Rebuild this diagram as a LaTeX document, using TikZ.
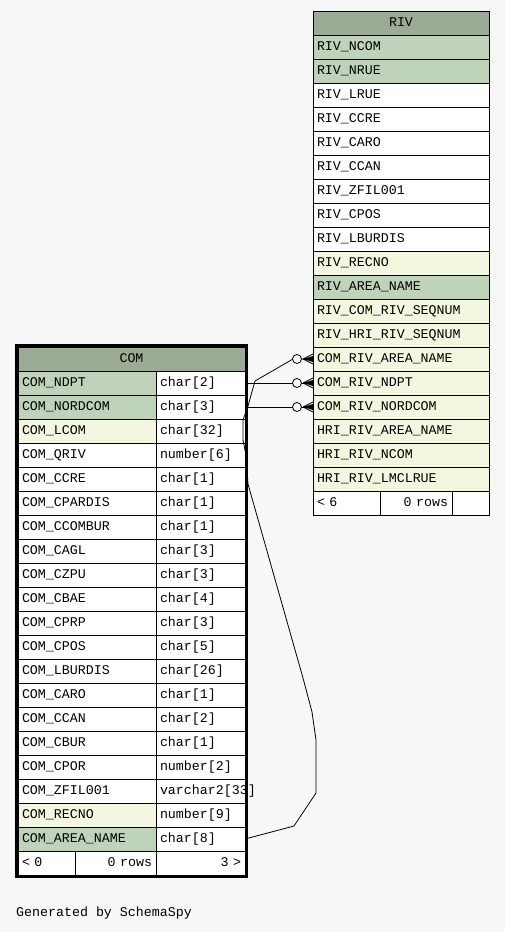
\documentclass[tikz,border=0pt]{standalone}
\usepackage{fontspec}
\setmonofont{Liberation Mono}
\usepackage{tikz}
\usetikzlibrary{positioning}
\definecolor{bgcol}{HTML}{F7F7F7}
\definecolor{headcol}{HTML}{9BAB96}
\definecolor{pkcol}{HTML}{BFD2BA}
\definecolor{idxcol}{HTML}{F4F7DF}
\tikzset{
    cellbox/.style = {
        rectangle,
        draw=black,
        line width=0.8pt,
        fill=white,
        font=\ttfamily\fontsize{13.3}{14}\selectfont,
        align=left,
        inner xsep=4pt,
        inner ysep=0pt,
        outer sep=0pt,
        minimum height=24pt,
        text height=9pt,
        text depth=3pt
    },
    headcell/.style = {cellbox, fill=headcol, align=center},
    pkcell/.style = {fill=pkcol},
    idxcell/.style = {fill=idxcol},
    rivcell/.style = {cellbox, text width=168pt},
    comname/.style = {cellbox, text width=130pt},
    comtype/.style = {cellbox, text width=81pt},
    link/.style = {draw=black, line width=0.8pt}
}
% circle and crow's foot at the west side of a node
\newcommand{\fkend}[1]{%
    \draw[link, fill=bgcol] ([xshift=-16pt]#1.west) circle (4.5pt);
    \draw[link] ([xshift=-10pt]#1.west) -- ([yshift=5pt]#1.west)
                ([xshift=-10pt]#1.west) -- (#1.west)
                ([xshift=-10pt]#1.west) -- ([yshift=-5pt]#1.west);
    \fill ([xshift=-10pt]#1.west) -- ([yshift=3pt]#1.west) -- ([yshift=-3pt]#1.west) -- cycle;
}
\begin{document}
\begin{tikzpicture}[x=1pt, y=-1pt]
    \fill[bgcol] (0,0) rectangle (505,932);
    % table RIV
    \node [headcell, text width=168pt, anchor=north west] (riv) at (313,11) {RIV};
    \node [rivcell, pkcell, below=0pt of riv] (riv-ncom) {RIV\_NCOM};
    \node [rivcell, pkcell, below=0pt of riv-ncom] (riv-nrue) {RIV\_NRUE};
    \node [rivcell, below=0pt of riv-nrue] (riv-lrue) {RIV\_LRUE};
    \node [rivcell, below=0pt of riv-lrue] (riv-ccre) {RIV\_CCRE};
    \node [rivcell, below=0pt of riv-ccre] (riv-caro) {RIV\_CARO};
    \node [rivcell, below=0pt of riv-caro] (riv-ccan) {RIV\_CCAN};
    \node [rivcell, below=0pt of riv-ccan] (riv-zfil) {RIV\_ZFIL001};
    \node [rivcell, below=0pt of riv-zfil] (riv-cpos) {RIV\_CPOS};
    \node [rivcell, below=0pt of riv-cpos] (riv-lburdis) {RIV\_LBURDIS};
    \node [rivcell, idxcell, below=0pt of riv-lburdis] (riv-recno) {RIV\_RECNO};
    \node [rivcell, pkcell, below=0pt of riv-recno] (riv-area) {RIV\_AREA\_NAME};
    \node [rivcell, idxcell, below=0pt of riv-area] (riv-comseq) {RIV\_COM\_RIV\_SEQNUM};
    \node [rivcell, idxcell, below=0pt of riv-comseq] (riv-hriseq) {RIV\_HRI\_RIV\_SEQNUM};
    \node [rivcell, idxcell, below=0pt of riv-hriseq] (riv-carea) {COM\_RIV\_AREA\_NAME};
    \node [rivcell, idxcell, below=0pt of riv-carea] (riv-cndpt) {COM\_RIV\_NDPT};
    \node [rivcell, idxcell, below=0pt of riv-cndpt] (riv-cnordcom) {COM\_RIV\_NORDCOM};
    \node [rivcell, idxcell, below=0pt of riv-cnordcom] (riv-harea) {HRI\_RIV\_AREA\_NAME};
    \node [rivcell, idxcell, below=0pt of riv-harea] (riv-hncom) {HRI\_RIV\_NCOM};
    \node [rivcell, idxcell, below=0pt of riv-hncom] (riv-hlmclrue) {HRI\_RIV\_LMCLRUE};
    \node [cellbox, text width=59pt, anchor=north west] (riv-f1) at (riv-hlmclrue.south west) {< 6};
    \node [cellbox, text width=64pt, align=right, right=0pt of riv-f1] (riv-f2) {0 rows};
    \node [cellbox, text width=29pt, right=0pt of riv-f2] (riv-f3) {};
    % table COM
    \node [headcell, text width=219pt, anchor=north west] (com) at (18,347) {COM};
    \node [comname, pkcell, anchor=north west] (com-ndpt) at (com.south west) {COM\_NDPT};
    \node [comname, pkcell, below=0pt of com-ndpt] (com-nordcom) {COM\_NORDCOM};
    \node [comname, idxcell, below=0pt of com-nordcom] (com-lcom) {COM\_LCOM};
    \node [comname, below=0pt of com-lcom] (com-qriv) {COM\_QRIV};
    \node [comname, below=0pt of com-qriv] (com-ccre) {COM\_CCRE};
    \node [comname, below=0pt of com-ccre] (com-cpardis) {COM\_CPARDIS};
    \node [comname, below=0pt of com-cpardis] (com-ccombur) {COM\_CCOMBUR};
    \node [comname, below=0pt of com-ccombur] (com-cagl) {COM\_CAGL};
    \node [comname, below=0pt of com-cagl] (com-czpu) {COM\_CZPU};
    \node [comname, below=0pt of com-czpu] (com-cbae) {COM\_CBAE};
    \node [comname, below=0pt of com-cbae] (com-cprp) {COM\_CPRP};
    \node [comname, below=0pt of com-cprp] (com-cpos) {COM\_CPOS};
    \node [comname, below=0pt of com-cpos] (com-lburdis) {COM\_LBURDIS};
    \node [comname, below=0pt of com-lburdis] (com-caro) {COM\_CARO};
    \node [comname, below=0pt of com-caro] (com-ccan) {COM\_CCAN};
    \node [comname, below=0pt of com-ccan] (com-cbur) {COM\_CBUR};
    \node [comname, below=0pt of com-cbur] (com-cpor) {COM\_CPOR};
    \node [comname, below=0pt of com-cpor] (com-zfil) {COM\_ZFIL001};
    \node [comname, idxcell, below=0pt of com-zfil] (com-recno) {COM\_RECNO};
    \node [comname, pkcell, below=0pt of com-recno] (com-area) {COM\_AREA\_NAME};
    \node [comtype, right=0pt of com-ndpt] (com-ndpt-t) {char[2]};
    \node [comtype, right=0pt of com-nordcom] (com-nordcom-t) {char[3]};
    \node [comtype, right=0pt of com-lcom] (com-lcom-t) {char[32]};
    \node [comtype, right=0pt of com-qriv] (com-qriv-t) {number[6]};
    \node [comtype, right=0pt of com-ccre] (com-ccre-t) {char[1]};
    \node [comtype, right=0pt of com-cpardis] (com-cpardis-t) {char[1]};
    \node [comtype, right=0pt of com-ccombur] (com-ccombur-t) {char[1]};
    \node [comtype, right=0pt of com-cagl] (com-cagl-t) {char[3]};
    \node [comtype, right=0pt of com-czpu] (com-czpu-t) {char[3]};
    \node [comtype, right=0pt of com-cbae] (com-cbae-t) {char[4]};
    \node [comtype, right=0pt of com-cprp] (com-cprp-t) {char[3]};
    \node [comtype, right=0pt of com-cpos] (com-cpos-t) {char[5]};
    \node [comtype, right=0pt of com-lburdis] (com-lburdis-t) {char[26]};
    \node [comtype, right=0pt of com-caro] (com-caro-t) {char[1]};
    \node [comtype, right=0pt of com-ccan] (com-ccan-t) {char[2]};
    \node [comtype, right=0pt of com-cbur] (com-cbur-t) {char[1]};
    \node [comtype, right=0pt of com-cpor] (com-cpor-t) {number[2]};
    \node [comtype, right=0pt of com-zfil] (com-zfil-t) {varchar2[33]};
    \node [comtype, right=0pt of com-recno] (com-recno-t) {number[9]};
    \node [comtype, right=0pt of com-area] (com-area-t) {char[8]};
    \node [cellbox, text width=49pt, anchor=north west] (com-f1) at (com-area.south west) {< 0};
    \node [cellbox, text width=73pt, align=right, right=0pt of com-f1] (com-f2) {0 rows};
    \node [cellbox, text width=81pt, align=right, right=0pt of com-f2] (com-f3) {3 >};
    \draw [line width=3pt] ([xshift=-1.5pt, yshift=1.5pt]com.north west)
        rectangle ([xshift=1.5pt, yshift=-1.5pt]com-f3.south east);
    % links
    \draw [link] (com-ndpt-t.east) -- (riv-cndpt.west);
    \draw [link] (com-nordcom-t.east) -- (riv-cnordcom.west);
    \draw [link] (com-area-t.east) -- (294,826) -- (316,793) -- (316,740) -- (312,712)
        -- (303,678) -- (248,484) -- (246,455) -- (243,440) -- (243,420) -- (248,406)
        -- (255,381) -- ([xshift=-20pt]riv-carea.west) -- (riv-carea.west);
    \fkend{riv-carea}
    \fkend{riv-cndpt}
    \fkend{riv-cnordcom}
    \node [font=\ttfamily\fontsize{13.3}{14}\selectfont, inner sep=0pt, anchor=west] (gen) at (16,913) {Generated by SchemaSpy};
\end{tikzpicture}
\end{document}
